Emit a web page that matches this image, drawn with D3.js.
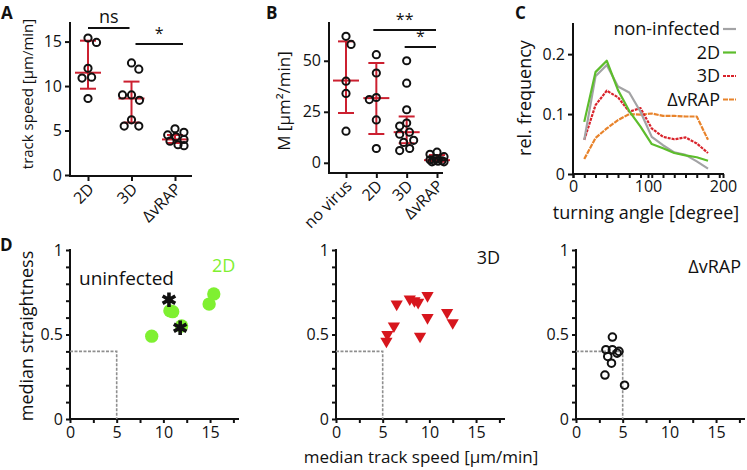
<!DOCTYPE html>
<html>
<head>
<meta charset="utf-8">
<script src="https://cdn.jsdelivr.net/npm/d3@7"></script>
<style>
  body { margin: 0; background: #fff; }
  svg text { font-family: "Open Sans", sans-serif; fill: #111; }
  .axis path, .axis line { stroke: #111; stroke-width: 2; }
  .axis text { font-size: 16px; font-family: "Open Sans", sans-serif; fill: #111; }
</style>
</head>
<body>
<div id="chart"></div>
<script>
// ---------- data ----------
// A: track speed
const aGroups = ["2D", "3D", "ΔvRAP"];
const aPoints = [
  [15.4, 14.9, 12.0, 11.0, 10.9, 8.6],
  [12.6, 11.9, 9.0, 9.0, 8.4, 6.2, 5.5, 5.5],
  [5.2, 4.8, 4.5, 4.3, 4.0, 3.8, 3.4, 3.3],
];
const aMedian = [11.5, 8.6, 4.0];
const aLow = [9.7, 5.9, 3.6];
const aHigh = [15.1, 10.5, 4.5];
const aYTicks = [0, 5, 10, 15];

// B: motility coefficient
const bGroups = ["no virus", "2D", "3D", "ΔvRAP"];
const bPoints = [
  [62, 58, 40, 34, 15.5],
  [53, 44, 32, 31, 21, 7],
  [50, 39, 26, 19.5, 18, 15, 14, 11, 10, 7, 6],
  [5.2, 4.2, 3, 2, 1.5, 1, 1, 0.8, 0.5, 0.5],
];
const bMedian = [40.3, 31.7, 15.0, 1.3];
const bLow = [24.4, 14.1, 9.6, 0.5];
const bHigh = [59.5, 48.9, 22.7, 3.8];
const bYTicks = [0, 25, 50];

// C: turning angle histogram
const cAngles = [15, 30, 45, 60, 75, 90, 105, 120, 135, 150, 165, 180];
const cNonInfected = [0.057, 0.163, 0.182, 0.146, 0.136, 0.104, 0.062, 0.048, 0.036, 0.032, 0.021, 0.009];
const c2D = [0.087, 0.170, 0.189, 0.140, 0.105, 0.079, 0.050, 0.043, 0.035, 0.031, 0.028, 0.022];
const c3D = [0.057, 0.115, 0.139, 0.128, 0.104, 0.110, 0.076, 0.062, 0.058, 0.061, 0.051, 0.035];
const cVRAP = [0.025, 0.060, 0.076, 0.090, 0.100, 0.099, 0.101, 0.097, 0.097, 0.096, 0.096, 0.057];
const cSeriesNames = ["non-infected", "2D", "3D", "ΔvRAP"];
const cXTicks = [0, 100, 200];
const cYTicks = [0, 0.1, 0.2];

// D: median speed vs median straightness
const dUninfected = [[10.6, 0.706], [11.8, 0.54]];
const d2D = [[8.75, 0.49], [10.7, 0.64], [11.0, 0.635], [11.95, 0.55], [14.9, 0.68], [15.4, 0.74]];
const d3D = [[5.4, 0.46], [5.5, 0.50], [6.2, 0.55], [6.5, 0.68], [7.9, 0.71], [8.4, 0.70], [8.8, 0.69],
  [9.0, 0.49], [9.8, 0.73], [9.8, 0.60], [11.9, 0.63], [12.5, 0.57]];
const dVRAP = [[3.9, 0.485], [3.2, 0.41], [3.9, 0.41], [4.6, 0.40], [4.4, 0.39], [3.4, 0.37],
  [3.8, 0.33], [3.1, 0.26], [5.2, 0.20]];
const dThreshold = [5, 0.4];
const dXTicks = [0, 5, 10, 15];
const dYTicks = [0, 0.5, 1];

const theme = {
  ink: "#111",
  err: "#cc2030",
  grey: "#a3a3a5",
  green: "#5dbd2c",
  red: "#d9232b",
  orange: "#e8832b",
  dGreen: "#7ff031",
  dRed: "#d7161d",
  dash: "#8f8f8f",
};

// ---------- svg ----------
const width = 747, height = 470;
const svg = d3.select("#chart").append("svg").attr("width", width).attr("height", height);

const panelLetter = (t, x, y) =>
  svg.append("text").attr("x", x).attr("y", y).attr("font-size", 17).attr("font-weight", 700).text(t);

const yLabel = (t, x, y, size) =>
  svg.append("text")
    .attr("transform", `translate(${x},${y}) rotate(-90)`)
    .attr("text-anchor", "middle").attr("font-size", size).text(t);

// small beeswarm: spread points horizontally, but never further than maxOff
const swarm = (values, y, r, maxOff) => {
  const placed = [];
  return values.map((v) => {
    const py = y(v);
    const cands = [0];
    placed.forEach((p) => {
      const dy = Math.abs(p[1] - py);
      if (dy < 2 * r) {
        const dx = Math.sqrt(4 * r * r - dy * dy);
        cands.push(p[0] + dx, p[0] - dx);
      }
    });
    cands.sort((a, b) => Math.abs(a) - Math.abs(b));
    let px = cands.find((c) => Math.abs(c) <= maxOff &&
      placed.every((p) => Math.hypot(p[0] - c, p[1] - py) >= 2 * r - 0.01));
    if (px === undefined) {
      let best = -1;
      d3.range(-maxOff, maxOff + 0.1, 2).forEach((c) => {
        const m = d3.min(placed, (p) => Math.hypot(p[0] - c, p[1] - py));
        if (m > best) { best = m; px = c; }
      });
    }
    placed.push([px, py]);
    return [px, py];
  });
};

// ---------- dot plot (A, B) ----------
const dotPanel = (o) => {
  const g = svg.append("g");
  const x = d3.scalePoint().domain(o.groups).range(o.xRange);
  const y = d3.scaleLinear().domain(o.yDomain).range(o.yRange);

  const yAxis = g.append("g").attr("class", "axis")
    .attr("transform", `translate(${o.axisX},0)`)
    .call(d3.axisLeft(y).tickValues(o.yTicks).tickSize(5).tickSizeOuter(0).tickPadding(3));
  yAxis.select(".domain").remove();
  g.append("line").attr("x1", o.axisX).attr("x2", o.axisX)
    .attr("y1", o.yRange[1]).attr("y2", o.axisY + 1).attr("stroke", theme.ink).attr("stroke-width", 2);

  const xAxis = g.append("g").attr("class", "axis")
    .attr("transform", `translate(0,${o.axisY})`)
    .call(d3.axisBottom(x).tickSize(5).tickFormat(""));
  xAxis.select(".domain").remove();
  g.append("line").attr("x1", o.axisX - 1).attr("x2", o.axisEnd)
    .attr("y1", o.axisY).attr("y2", o.axisY).attr("stroke", theme.ink).attr("stroke-width", 2);

  g.selectAll(".xlab").data(o.groups).join("text")
    .attr("transform", (d) => `translate(${x(d) + 7},${o.axisY + 14}) rotate(-45)`)
    .attr("text-anchor", "end").attr("font-size", 16).text((d) => d);

  // error bars: median and IQR
  o.groups.forEach((gr, i) => {
    const cx = x(gr);
    const eb = g.append("g").attr("stroke", theme.err).attr("stroke-width", 2);
    eb.append("line").attr("x1", cx).attr("x2", cx).attr("y1", y(o.low[i])).attr("y2", y(o.high[i]));
    eb.append("line").attr("x1", cx - 8).attr("x2", cx + 8).attr("y1", y(o.low[i])).attr("y2", y(o.low[i]));
    eb.append("line").attr("x1", cx - 8).attr("x2", cx + 8).attr("y1", y(o.high[i])).attr("y2", y(o.high[i]));
    eb.append("line").attr("x1", cx - 13).attr("x2", cx + 13).attr("y1", y(o.median[i])).attr("y2", y(o.median[i]));
  });

  o.groups.forEach((gr, i) => {
    const pts = swarm(o.points[i], y, 4.8, o.maxOff);
    g.selectAll(null).data(pts).join("circle")
      .attr("cx", (d) => x(gr) + d[0]).attr("cy", (d) => d[1]).attr("r", 3.6)
      .attr("fill", "none").attr("stroke", theme.ink).attr("stroke-width", 2);
  });

  // significance bars
  o.sig.forEach((s) => {
    g.append("line").attr("x1", x(s.from) - s.pad[0]).attr("x2", x(s.to) + s.pad[1])
      .attr("y1", s.y).attr("y2", s.y).attr("stroke", theme.ink).attr("stroke-width", 2);
    g.append("text").attr("x", (x(s.from) - s.pad[0] + x(s.to) + s.pad[1]) / 2).attr("y", s.y - 5)
      .attr("text-anchor", "middle").attr("font-size", s.label === "ns" ? 18 : 16).text(s.label);
  });
};

dotPanel({
  groups: aGroups, points: aPoints, median: aMedian, low: aLow, high: aHigh, yTicks: aYTicks,
  xRange: [88, 175], yDomain: [0, 17.2], yRange: [175, 22], axisX: 70, axisY: 176, axisEnd: 192, maxOff: 9,
  sig: [
    { from: "2D", to: "3D", label: "ns", y: 28, pad: [0, -2] },
    { from: "3D", to: "ΔvRAP", label: "*", y: 44, pad: [-4, 8] },
  ],
});
dotPanel({
  groups: bGroups, points: bPoints, median: bMedian, low: bLow, high: bHigh, yTicks: bYTicks,
  xRange: [346, 437], yDomain: [-5, 69], yRange: [173, 22], axisX: 329, axisY: 173, axisEnd: 443, maxOff: 7,
  sig: [
    { from: "2D", to: "ΔvRAP", label: "**", y: 30, pad: [3, -1] },
    { from: "3D", to: "ΔvRAP", label: "*", y: 47, pad: [2, -1] },
  ],
});

panelLetter("A", 1, 19);
panelLetter("B", 266, 19);
yLabel("track speed [μm/min]", 33, 94, 15);
yLabel("M [μm²/min]", 290, 101, 17);

// ---------- line chart (C) ----------
{
  const g = svg.append("g");
  const x = d3.scaleLinear().domain([0, 200]).range([573, 723]);
  const y = d3.scaleLinear().domain([0, 0.252]).range([174, 23]);

  const yAx = g.append("g").attr("class", "axis").attr("transform", "translate(573,0)")
    .call(d3.axisLeft(y).tickValues(cYTicks).tickSize(5).tickSizeOuter(0).tickPadding(3)
      .tickFormat((d) => (d === 0 ? "0" : d3.format(".1f")(d))));
  yAx.select(".domain").remove();
  g.append("line").attr("x1", 573).attr("x2", 573).attr("y1", 23).attr("y2", 175)
    .attr("stroke", theme.ink).attr("stroke-width", 2);

  const minor = g.append("g").attr("class", "axis").attr("transform", "translate(0,174)")
    .call(d3.axisBottom(x).tickValues(d3.range(0, 200, 15)).tickSize(4).tickFormat(""));
  minor.select(".domain").remove();
  const xAx = g.append("g").attr("class", "axis").attr("transform", "translate(0,174)")
    .call(d3.axisBottom(x).tickValues(cXTicks).tickSize(4).tickSizeOuter(0).tickPadding(3));
  xAx.select(".domain").remove();
  xAx.selectAll("text").attr("font-size", 17);
  g.append("line").attr("x1", 572).attr("x2", 724).attr("y1", 174).attr("y2", 174)
    .attr("stroke", theme.ink).attr("stroke-width", 2);

  const series = [
    { name: cSeriesNames[0], values: cNonInfected, color: theme.grey, dash: null },
    { name: cSeriesNames[1], values: c2D, color: theme.green, dash: null },
    { name: cSeriesNames[2], values: c3D, color: theme.red, dash: "3,1" },
    { name: cSeriesNames[3], values: cVRAP, color: theme.orange, dash: "5,1" },
  ];
  const line = d3.line().x((d, i) => x(cAngles[i])).y((d) => y(d));
  [series[3], series[2], series[0], series[1]].forEach((s) => {
    g.append("path").attr("d", line(s.values)).attr("fill", "none")
      .attr("stroke", s.color).attr("stroke-width", 2.2).attr("stroke-dasharray", s.dash)
      .attr("stroke-linejoin", "round");
  });

  const leg = g.append("g");
  series.forEach((s, i) => {
    const ly = 35 + i * 23.5;
    leg.append("text").attr("x", 720).attr("y", ly).attr("text-anchor", "end")
      .attr("font-size", 18).text(s.name);
    leg.append("line").attr("x1", 723).attr("x2", 736).attr("y1", ly - 6).attr("y2", ly - 6)
      .attr("stroke", s.color).attr("stroke-width", 2.2).attr("stroke-dasharray", s.dash);
  });

  g.append("text").attr("x", 646).attr("y", 219).attr("text-anchor", "middle")
    .attr("font-size", 18).text("turning angle [degree]");
  yLabel("rel. frequency", 531, 98, 18);
  panelLetter("C", 515, 19);
}

// ---------- scatter panels (D) ----------
const scatterPanel = (x0, sets, label) => {
  const g = svg.append("g");
  const x = d3.scaleLinear().domain([0, 18.1]).range([x0, x0 + 169]);
  const y = d3.scaleLinear().domain([0, 1]).range([419, 250]);

  const yAx = g.append("g").attr("class", "axis").attr("transform", `translate(${x0},0)`)
    .call(d3.axisLeft(y).tickValues(d3.range(0, 1.01, 0.1)).tickSize(4).tickSizeOuter(0).tickPadding(3)
      .tickFormat((d) => (dYTicks.some((t) => Math.abs(t - d) < 1e-6) ? d3.format("~g")(d) : "")));
  yAx.select(".domain").remove();
  const xAx = g.append("g").attr("class", "axis").attr("transform", "translate(0,419)")
    .call(d3.axisBottom(x).tickValues(d3.range(0, 17.6, 2.5)).tickSize(4).tickSizeOuter(0).tickPadding(4)
      .tickFormat((d) => (dXTicks.includes(d) ? d : "")));
  xAx.select(".domain").remove();
  g.selectAll(".axis text").attr("font-size", 17);
  g.append("line").attr("x1", x0).attr("x2", x0).attr("y1", 249).attr("y2", 420)
    .attr("stroke", theme.ink).attr("stroke-width", 2);
  g.append("line").attr("x1", x0 - 1).attr("x2", x0 + 169).attr("y1", 419).attr("y2", 419)
    .attr("stroke", theme.ink).attr("stroke-width", 2);

  // threshold box
  g.append("path")
    .attr("d", d3.line()([[x(0), y(dThreshold[1])], [x(dThreshold[0]), y(dThreshold[1])], [x(dThreshold[0]), y(0)]]))
    .attr("fill", "none").attr("stroke", theme.dash).attr("stroke-width", 1.6).attr("stroke-dasharray", "3,1.5");

  sets.forEach((s) => {
    const sym = g.selectAll(null).data(s.data).join("path")
      .attr("transform", (d) => `translate(${x(d[0])},${y(d[1])})${s.rotate ? " rotate(180)" : ""}`)
      .attr("d", d3.symbol(s.type, s.size)());
    if (s.fill) sym.attr("fill", s.fill).attr("stroke", "none");
    else sym.attr("fill", "none").attr("stroke", s.stroke).attr("stroke-width", s.sw);
  });

  label.forEach((l) => {
    g.append("text").attr("x", l.x).attr("y", l.y).attr("text-anchor", l.anchor || "start")
      .attr("font-size", l.size || 18).style("fill", l.color || theme.ink).text(l.text);
  });
};

scatterPanel(70, [
  { data: d2D, type: d3.symbolCircle, size: 140, fill: theme.dGreen },
  { data: dUninfected, type: d3.symbolAsterisk, size: 150, stroke: theme.ink, sw: 3.6 },
], [
  { text: "uninfected", x: 79, y: 285, size: 19 },
  { text: "2D", x: 212, y: 272, color: theme.dGreen },
]);
scatterPanel(336, [
  { data: d3D, type: d3.symbolTriangle, size: 65, fill: theme.dRed, rotate: true },
], [
  { text: "3D", x: 500, y: 264, anchor: "end" },
]);
scatterPanel(576, [
  { data: dVRAP, type: d3.symbolCircle, size: 45, stroke: theme.ink, sw: 2 },
], [
  { text: "ΔvRAP", x: 741, y: 273, anchor: "end" },
]);

panelLetter("D", 0, 251);
yLabel("median straightness", 33, 336, 18);
svg.append("text").attr("x", 421).attr("y", 463).attr("text-anchor", "middle")
  .attr("font-size", 17).text("median track speed [μm/min]");
</script>
</body>
</html>
